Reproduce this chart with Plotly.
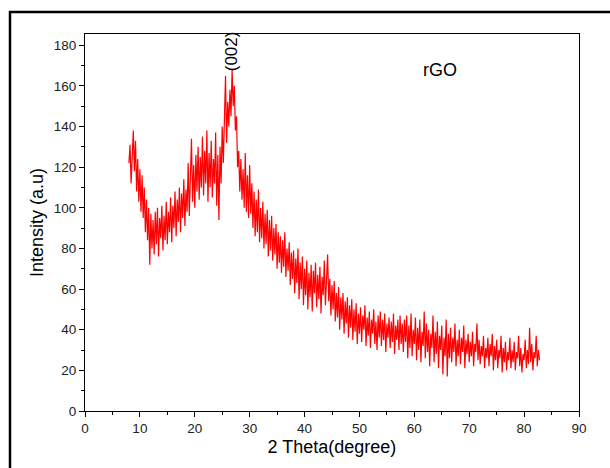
import numpy as np
import plotly.graph_objects as go

# 2-theta grid (scan from 8.0 to 82.8 deg, step 0.2)
two_theta_start = 8.0
two_theta_step = 0.2

seg_a = [122, 131, 112, 129, 138, 118, 133, 108, 124, 103, 119, 98, 116, 95, 110, 88, 104, 84, 100, 72,
         97, 80, 94, 77, 98, 82, 100, 76, 95, 85, 101, 79, 96, 84, 103, 82, 98, 88, 105, 83,
         101, 90, 108, 86, 104, 93, 110, 88, 107, 95]
seg_b = [114, 91, 109, 98, 122, 96, 118, 134, 103, 121, 100, 126, 108, 130, 104, 125, 110, 135, 106, 128,
         112, 138, 103, 127, 110, 133, 105, 124, 112, 137, 101, 126, 94, 130, 112, 140, 122, 148, 165, 132,
         152, 140, 158, 145, 168, 150, 160, 138, 145, 120]
seg_c = [128, 108, 124, 104, 119, 100, 127, 98, 116, 95, 121, 97, 112, 90, 108, 86, 104, 88, 109, 83,
         100, 85, 103, 80, 97, 82, 99, 76, 94, 79, 96, 74, 90, 77, 92, 70, 88, 73, 86, 68,
         84, 71, 88, 66, 80, 69, 83, 62, 78, 65]
seg_d = [79, 58, 75, 63, 80, 55, 73, 60, 76, 52, 70, 57, 74, 50, 68, 56, 72, 49, 69, 58,
         73, 51, 67, 55, 71, 48, 66, 57, 74, 52, 69, 77, 54, 65, 47, 62, 50, 64, 44, 58,
         46, 61, 40, 56, 45, 58, 38, 54, 43, 56]
seg_e = [36, 52, 41, 55, 35, 50, 39, 53, 33, 48, 38, 51, 34, 47, 40, 52, 32, 46, 37, 49,
         31, 45, 38, 50, 33, 44, 30, 47, 36, 49, 32, 45, 35, 48, 29, 43, 36, 46, 31, 44,
         34, 48, 28, 42, 35, 45, 30, 47, 33, 43]
seg_f = [29, 45, 34, 47, 26, 42, 31, 48, 27, 40, 33, 46, 25, 41, 30, 45, 24, 39, 32, 49,
         26, 43, 29, 40, 22, 38, 31, 47, 24, 39, 28, 44, 21, 37, 30, 42, 18, 36, 27, 45,
         17, 38, 26, 41, 24, 36, 29, 43, 22, 35]
seg_g = [27, 40, 23, 36, 29, 42, 21, 35, 28, 38, 24, 34, 27, 39, 22, 33, 29, 43, 25, 35,
         23, 32, 27, 37, 21, 31, 26, 36, 22, 33, 27, 38, 20, 32, 25, 35, 21, 30, 26, 37,
         19, 31, 24, 34, 20, 29, 25, 36, 21, 30]
seg_h = [24, 34, 20, 29, 26, 37, 22, 31, 19, 28, 25, 35, 21, 30, 23, 41, 24, 33, 20, 29,
         26, 37, 22, 30, 25]

intensity = seg_a + seg_b + seg_c + seg_d + seg_e + seg_f + seg_g + seg_h
two_theta = np.round(two_theta_start + two_theta_step * np.arange(len(intensity)), 2)

x_ticks = [0, 10, 20, 30, 40, 50, 60, 70, 80, 90]
y_ticks = [0, 20, 40, 60, 80, 100, 120, 140, 160, 180]

fig = go.Figure()
fig.add_trace(go.Scatter(x=two_theta, y=intensity, mode="lines",
                         line=dict(color="#ff0000", width=1.2), showlegend=False))

W, H = 610, 468
ml, mr, mt, mb = 85, 31, 34, 57
pw, ph = W - ml - mr, H - mt - mb

def px_x(p):
    return (p - ml) / pw

def px_y(p):
    return (H - mb - p) / ph

FAM = "Liberation Sans, Arial, sans-serif"
axis_font = dict(family=FAM, size=13.5, color="#222")
title_font = dict(family=FAM, size=18, color="#000")

fig.update_layout(
    width=W, height=H,
    margin=dict(l=ml, r=mr, t=mt, b=mb),
    paper_bgcolor="white", plot_bgcolor="white",
    xaxis=dict(range=[0, 90], tickvals=x_ticks, ticks="outside", ticklen=5, tickwidth=1,
               tickcolor="black", showline=True, linecolor="black", linewidth=1, mirror=True,
               showgrid=False, zeroline=False, tickfont=axis_font,
               minor=dict(dtick=5, ticks="outside", ticklen=3, tickcolor="black"),
               title=dict(text="2 Theta(degree)", font=title_font, standoff=5)),
    yaxis=dict(range=[0, 185.5], tickvals=y_ticks, ticks="outside", ticklen=5, tickwidth=1,
               tickcolor="black", showline=True, linecolor="black", linewidth=1, mirror=True,
               showgrid=False, zeroline=False, tickfont=axis_font,
               minor=dict(dtick=10, ticks="outside", ticklen=3, tickcolor="black"),
               title=dict(text="Intensity (a.u)", font=title_font, standoff=5)),
    annotations=[
        dict(x=26.6, y=177, xref="x", yref="y", text="(002)", textangle=-90, showarrow=False,
             font=dict(family=FAM, size=17, color="#000")),
        dict(x=64.7, y=168, xref="x", yref="y", text="rGO", showarrow=False,
             font=dict(family=FAM, size=18, color="#000")),
    ],
    shapes=[
        dict(type="rect", xref="paper", yref="paper",
             x0=px_x(10), x1=px_x(614), y0=px_y(472), y1=px_y(12),
             line=dict(color="black", width=2.5), fillcolor="rgba(0,0,0,0)", layer="above"),
    ],
)

fig.write_html("out.html")
